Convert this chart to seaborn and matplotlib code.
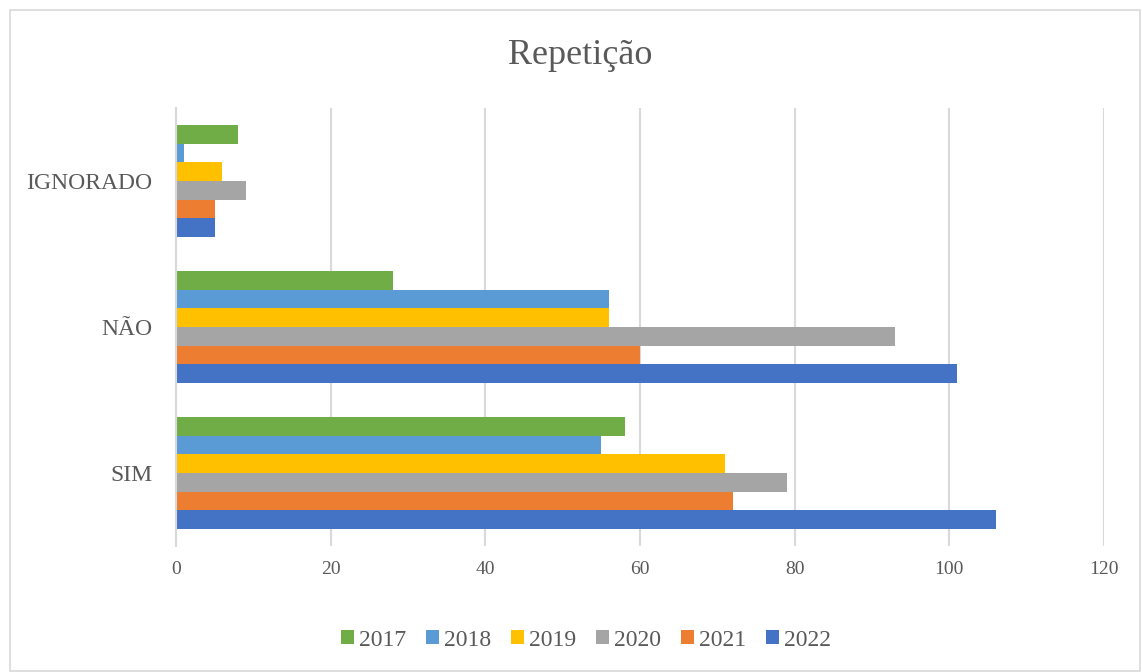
import pandas as pd
import matplotlib.pyplot as plt
import seaborn as sns

# Data
categories = ['IGNORADO', 'NÃO', 'SIM']
years = ['2017', '2018', '2019', '2020', '2021', '2022']
v2017 = [8, 28, 58]
v2018 = [1, 56, 55]
v2019 = [6, 56, 71]
v2020 = [9, 93, 79]
v2021 = [5, 60, 72]
v2022 = [5, 101, 106]
colors = ['#70AD47', '#5B9BD5', '#FFC000', '#A5A5A5', '#ED7D31', '#4472C4']

series = [v2017, v2018, v2019, v2020, v2021, v2022]
rows = []
for year, vals in zip(years, series):
    for cat, v in zip(categories, vals):
        rows.append({'categoria': cat, 'ano': year, 'valor': v})
df = pd.DataFrame(rows)

sns.set_style('white')
plt.rcParams['font.family'] = ['Liberation Serif', 'DejaVu Serif']

fig = plt.figure(figsize=(11.42, 6.72), dpi=100)
ax = fig.add_axes([176 / 1142, 1 - 546 / 672, 928 / 1142, 438 / 672])

sns.barplot(data=df, x='valor', y='categoria', hue='ano', order=categories,
            hue_order=years, palette=colors, orient='h', width=0.77,
            saturation=1, linewidth=0, ax=ax, legend=True)

ax.set_xlim(0, 120)
ax.set_xticks(range(0, 121, 20))
ax.xaxis.grid(True, color='#D9D9D9', linewidth=1.5)
ax.set_axisbelow(True)
for s in ['top', 'right', 'bottom']:
    ax.spines[s].set_visible(False)
ax.spines['left'].set_color('#D9D9D9')
ax.spines['left'].set_linewidth(1.5)
ax.set_xlabel('')
ax.set_ylabel('')
ax.tick_params(axis='x', labelsize=14, colors='#595959', length=0, pad=11)
ax.tick_params(axis='y', labelsize=17, colors='#595959', length=0, pad=17)

fig.text(580 / 1142, 1 - 55 / 672, 'Repetição', ha='center', va='center',
         fontsize=26, color='#595959')

handles, labels = ax.get_legend_handles_labels()
ax.legend_.remove()
fig.legend(handles, labels, loc='center', bbox_to_anchor=(586 / 1142, 1 - 640 / 672),
           ncol=6, frameon=False, fontsize=17, handlelength=0.55, handleheight=0.55,
           handletextpad=0.2, columnspacing=0.85, labelcolor='#595959')

# light frame around the chart area
fig.patches.append(plt.Rectangle((10 / 1142, 0.002), 1130 / 1142, 1 - 10 / 672 - 0.002,
                                 transform=fig.transFigure, fill=False,
                                 edgecolor='#D9D9D9', linewidth=1.2))

plt.savefig('out.png', dpi=100)
